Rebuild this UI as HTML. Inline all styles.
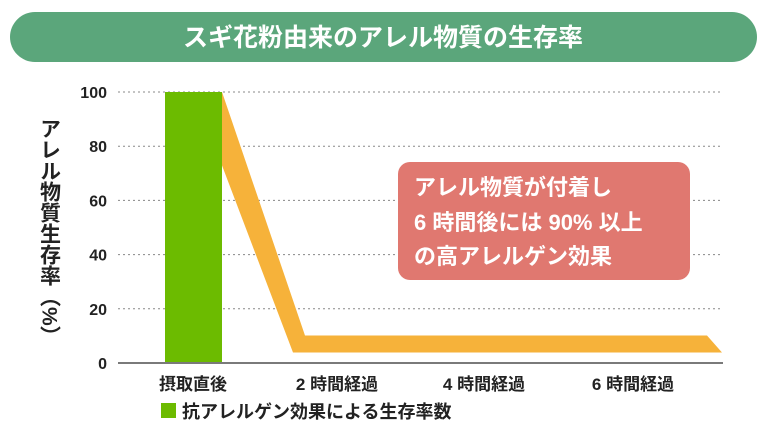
<!DOCTYPE html>
<html><head><meta charset="utf-8"><style>
body{margin:0;width:768px;height:443px;background:#fff;overflow:hidden;font-family:"Liberation Sans","Noto Sans CJK JP",sans-serif;}
</style></head><body>
<svg width="768" height="443" style="position:absolute;left:0;top:0">
<rect x="10" y="12" width="747" height="50" rx="25" fill="#5ba67b"/>
<text x="383" y="46" text-anchor="middle" fill="#fff" font-size="25" font-weight="bold" font-family="Liberation Sans, Noto Sans CJK JP, sans-serif">スギ花粉由来のアレル物質の生存率</text>
<g id="grid"></g>
<g id="marks"></g>
<line x1="118" y1="363" x2="723" y2="363" stroke="#7a7a7a" stroke-width="2"/>
<text transform="translate(49,118) " font-size="21" font-weight="bold" fill="#222" style="writing-mode:vertical-rl" font-family="Liberation Sans, Noto Sans CJK JP, sans-serif">アレル物質生存率（%）</text>
<rect x="398" y="162" width="292" height="118" rx="12" fill="#e07870"/>
<g fill="#fff" font-size="22" font-weight="bold" font-family="Liberation Sans, Noto Sans CJK JP, sans-serif">
<text x="414" y="195">アレル物質が付着し</text>
<text x="414" y="230">6 時間後には 90% 以上</text>
<text x="414" y="264">の高アレルゲン効果</text>
</g>
<rect x="161" y="403" width="15" height="15" fill="#6cbb00"/>
<text x="182" y="418" font-size="18" font-weight="bold" fill="#222" font-family="Liberation Sans, Noto Sans CJK JP, sans-serif">抗アレルゲン効果による生存率数</text>
</svg>
<script>
const categories=["摂取直後","2 時間経過","4 時間経過","6 時間経過"];
const barValues=[100];
const lineValues=[100,7,7,7];
const yTicks=[0,20,40,60,80,100];
const NS="http://www.w3.org/2000/svg";
const y=v=>363-v*2.71;
const xc=i=>[193,337,484,633][i];
const grid=document.getElementById('grid'),marks=document.getElementById('marks');
function mk(t,a,p){const e=document.createElementNS(NS,t);for(const k in a)e.setAttribute(k,a[k]);p.appendChild(e);return e;}
yTicks.forEach(v=>{
 if(v>0){const l=mk('line',{x1:118,x2:723,y1:y(v),y2:y(v),stroke:'#888','stroke-dasharray':'2 3','stroke-width':1},grid);
 
 }
 const t=mk('text',{x:107,y:y(v)+6,'text-anchor':'end','font-size':16,'font-weight':'bold',fill:'#222'},grid);t.textContent=v;
 
 
});
categories.forEach((c,i)=>{const t=mk('text',{x:xc(i),y:390,'text-anchor':'middle','font-size':17,fill:'#222','font-weight':'bold'},grid);t.textContent=c;
 
 });
const h=8.5;
const p3=[707,y(lineValues[3])];
const pts=[[222,y(lineValues[0])],[305,y(lineValues[1])-h],[p3[0],y(lineValues[3])-h],[722,y(lineValues[3])+h],[293,y(lineValues[1])+h],[215,y(lineValues[0])+55]];
const band=mk('polygon',{points:pts.map(p=>p.join(',')).join(' '),fill:'#f6b23a'},marks);


barValues.forEach((v,i)=>{const r=mk('rect',{x:xc(i)-28,y:y(v),width:57,height:y(0)-y(v),fill:'#6cbb00'},marks);
 
 });
</script>
</body></html>
